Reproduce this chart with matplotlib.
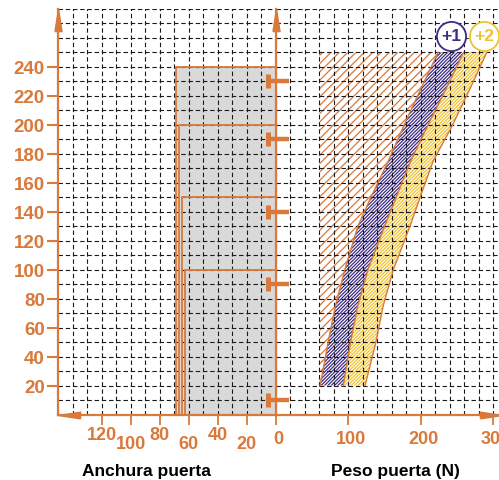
import matplotlib

matplotlib.use("Agg")
import matplotlib.pyplot as plt
import numpy as np

plt.rcParams["font.family"] = ["Liberation Sans", "DejaVu Sans"]
plt.rcParams["lines.scale_dashes"] = False
plt.rcParams["hatch.linewidth"] = 0.9

ORANGE = "#d9793b"
PURPLE = "#3d2c86"
YELLOW = "#f0c22b"
GRAY = "#d9d9d9"

# door height (cm), shared y axis
height_ticks = [20, 40, 60, 80, 100, 120, 140, 160, 180, 200, 220, 240]
# left panel: door width (cm), right panel: door weight (N)
width_ticks = [120, 100, 80, 60, 40, 20]
weight_ticks = [0, 100, 200, 300]

# nested door size boxes
box_width = [68.5, 66.8, 65.0, 62.3]
box_height = [240, 200, 150, 100]

# closer symbols on the middle axis
closer_h = [230, 190, 140, 90, 10]

# band edges: weight (N) at each height
curve_h = [20, 50, 75, 100, 130, 150, 175, 200, 225, 250]
edge_a = [61, 72, 82, 95, 113, 131, 155, 177, 200, 224]
edge_b = [93, 103, 113, 127, 150, 166, 186, 210, 235, 259]
edge_c = [123, 138, 148, 162, 185, 199, 217, 244, 268, 291]
min_weight = 60
band_labels = ["+1", "+2"]
band_colors = [PURPLE, YELLOW]

fig = plt.figure(figsize=(4.99, 4.81), dpi=100)
bottom, height = 0.136, 0.8433
ax_l = fig.add_axes([0.1162, bottom, 0.4369, height])
ax_r = fig.add_axes([0.5531, bottom, 0.4455, height])

grid_kw = dict(color="#1a1a1a", linewidth=0.8, linestyle=(0, (3.2, 2.0)))

for ax in (ax_l, ax_r):
    ax.set_ylim(0, 280)
    ax.set_yticks(height_ticks)
    ax.set_yticks(np.arange(10, 290, 10), minor=True)
    ax.set_axisbelow(False)
    ax.grid(True, which="both", **grid_kw)
    ax.spines[["top", "right"]].set_visible(False)
    for s in ("left", "bottom"):
        ax.spines[s].set_color(ORANGE)
        ax.spines[s].set_linewidth(1.6)
        ax.spines[s].set_zorder(3)
    ax.tick_params(which="minor", length=0)
    ax.tick_params(axis="x", which="major", direction="out", length=7,
                   width=1.3, color=ORANGE, labelbottom=False)

# left panel
ax_l.set_xlim(150, 0)
ax_l.set_xticks(width_ticks)
ax_l.set_xticks(np.arange(10, 150, 10), minor=True)
ax_l.tick_params(axis="y", which="major", length=8, width=1.5, color=ORANGE,
                 pad=1.5, labelcolor=ORANGE, labelsize=13.5)
for lbl in ax_l.get_yticklabels():
    lbl.set_fontweight("bold")

for w, h in zip(box_width, box_height):
    ax_l.fill_between([0, w], 0, h, color=GRAY, linewidth=0, zorder=1)
for w, h in zip(box_width, box_height):
    ax_l.plot([w, w, 0], [0, h, h], color=ORANGE, linewidth=1.3, zorder=3)

for i, v in enumerate(width_ticks):
    ax_l.annotate(str(v), xy=(v, 0), xycoords=("data", "axes fraction"),
                  xytext=(0, -14 if i % 2 == 0 else -21), textcoords="offset points",
                  ha="center", va="center", color=ORANGE, fontsize=13,
                  fontweight="bold", annotation_clip=False)

# right panel
ax_r.set_xlim(0, 307)
ax_r.set_xticks(weight_ticks)
ax_r.set_xticks(np.arange(20, 307, 20), minor=True)
ax_r.tick_params(axis="y", which="both", length=0, labelleft=False)
for v in weight_ticks:
    ax_r.annotate(str(v), xy=(v, 0), xycoords=("data", "axes fraction"),
                  xytext=(2, -17.5), textcoords="offset points",
                  ha="center", va="center", color=ORANGE, fontsize=13,
                  fontweight="bold", annotation_clip=False)

ax_r.fill_betweenx(curve_h, min_weight, edge_a, facecolor="none",
                   edgecolor=ORANGE, hatch="////", linewidth=0, zorder=1)
ax_r.fill_betweenx(curve_h, edge_a, edge_b, facecolor="white",
                   edgecolor=PURPLE, hatch="/" * 10, linewidth=0, zorder=1)
ax_r.fill_betweenx(curve_h, edge_b, edge_c, facecolor="white",
                   edgecolor=YELLOW, hatch="/" * 10, linewidth=0, zorder=1)
for edge in (edge_a, edge_b, edge_c):
    ax_r.plot(edge, curve_h, color=ORANGE, linewidth=1.0, zorder=3)

label_x = [(edge_a[-1] + edge_b[-1]) / 2, edge_c[-1] - 4]
for x, lab, col in zip(label_x, band_labels, band_colors):
    ax_r.plot(x, 261.5, "o", ms=21, mfc="white", mec=col, mew=1.3,
              clip_on=False, zorder=5)
    ax_r.text(x, 261.5, lab, color=col, fontsize=12.5, fontweight="bold",
              ha="center", va="center", zorder=6)

for h in closer_h:
    ax_r.plot([-8, 18], [h, h], color=ORANGE, linewidth=3.2,
              solid_capstyle="butt", clip_on=False, zorder=4)
    ax_r.plot([-10.6], [h], marker="|", ms=10, mew=3.6, color=ORANGE,
              clip_on=False, zorder=4)

# arrow heads on the axes
up = [(-0.32, -1), (0.32, -1), (0, 1), (-0.32, -1)]
left = [(1, -0.3), (1, 0.3), (-1, 0), (1, -0.3)]
right = [(-1, -0.3), (-1, 0.3), (1, 0), (-1, -0.3)]
arrow_kw = dict(ms=16, color=ORANGE, clip_on=False, zorder=6, linestyle="none")
ax_l.plot(0, 0.972, marker=up, transform=ax_l.transAxes, **arrow_kw)
ax_r.plot(0, 0.972, marker=up, transform=ax_r.transAxes, **arrow_kw)
ax_l.plot(0.05, 0, marker=left, transform=ax_l.transAxes, **arrow_kw)
ax_r.plot(0.969, 0, marker=right, transform=ax_r.transAxes, **arrow_kw)

fig.text(146 / 499, 1 - 471.5 / 481, "Anchura puerta", ha="center", va="center",
         fontsize=12.5, fontweight="bold", color="black")
fig.text(395 / 499, 1 - 471.5 / 481, "Peso puerta (N)", ha="center", va="center",
         fontsize=12.5, fontweight="bold", color="black")

fig.savefig("out.png", dpi=100)
plt.close(fig)
